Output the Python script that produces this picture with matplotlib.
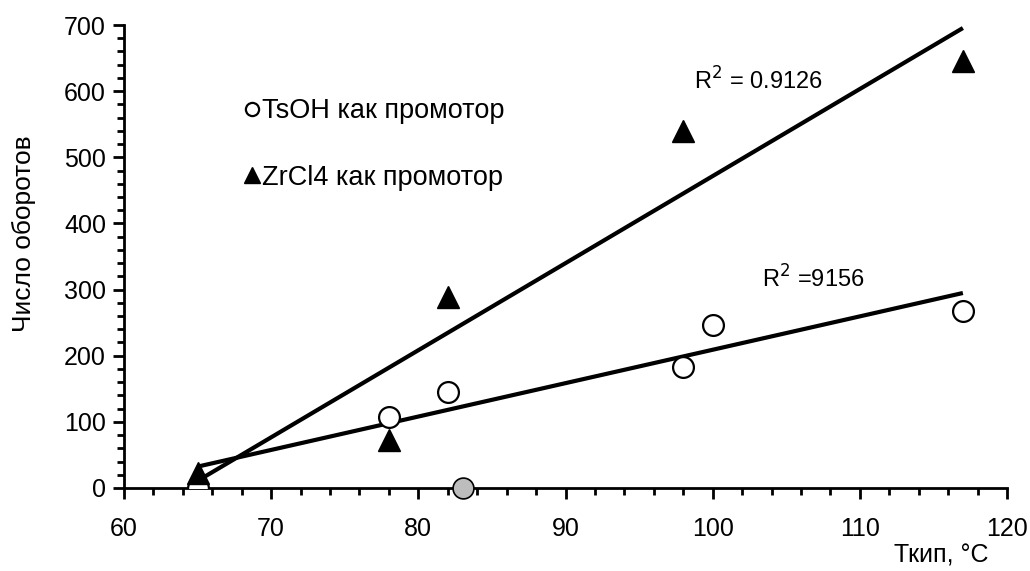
import numpy as np
import matplotlib
matplotlib.use("Agg")
import matplotlib.pyplot as plt
from matplotlib.lines import Line2D
from matplotlib.ticker import MultipleLocator

plt.rcParams['font.family'] = ['Liberation Sans', 'DejaVu Sans']

# Boiling point of the alcohol (°C) and turnover number
tsoh_t = [65, 78, 82, 98, 100, 117]
tsoh_n = [0, 108, 145, 183, 247, 268]

zrcl4_t = [65, 78, 82, 98, 117]
zrcl4_n = [22, 72, 289, 540, 645]

outlier_t = [83]
outlier_n = [0]

r2_zrcl4 = "R$^2$ = 0.9126"
r2_tsoh = "R$^2$ =9156"

fig = plt.figure(figsize=(10.30, 5.71), dpi=100)
ax = fig.add_axes([0.1204, 0.1454, 0.8573, 0.8108])

# Linear trend lines over the measured range
for t, n in ((tsoh_t, tsoh_n), (zrcl4_t, zrcl4_n)):
    k, b = np.polyfit(t, n, 1)
    xs = np.array([min(t), max(t)])
    ax.plot(xs, k * xs + b, color='black', lw=3.0, zorder=2, solid_capstyle='butt')

ax.plot(tsoh_t, tsoh_n, 'o', ms=15, mfc='white', mec='black', mew=1.6, zorder=3)
ax.plot(zrcl4_t, zrcl4_n, '^', ms=16, mfc='black', mec='black', zorder=4)
ax.plot(outlier_t, outlier_n, 'o', ms=15, mfc='#bdbdbd', mec='black', mew=1.2,
        zorder=5, clip_on=False)

ax.set_xlim(60, 120)
ax.set_ylim(0, 700)
ax.xaxis.set_major_locator(MultipleLocator(10))
ax.xaxis.set_minor_locator(MultipleLocator(2))
ax.yaxis.set_major_locator(MultipleLocator(100))
ax.yaxis.set_minor_locator(MultipleLocator(20))

for s in ('top', 'right'):
    ax.spines[s].set_visible(False)
for s in ('left', 'bottom'):
    ax.spines[s].set_linewidth(2.0)

ax.tick_params(axis='both', which='major', direction='out', length=8, width=2,
               labelsize=18)
ax.tick_params(axis='both', which='minor', direction='out', length=5, width=2)
ax.tick_params(axis='x', which='major', pad=13)
ax.tick_params(axis='y', which='major', pad=5)

ax.set_ylabel("Число оборотов", fontsize=19)
ax.yaxis.set_label_coords(-0.0997, 0.55)
ax.set_xlabel("Ткип, °C", fontsize=18)
ax.xaxis.set_label_coords(0.926, -0.12)

ax.text(0.645, 0.88, r2_zrcl4, transform=ax.transAxes, fontsize=17,
        ha='left', va='center')
ax.text(0.723, 0.452, r2_tsoh, transform=ax.transAxes, fontsize=17,
        ha='left', va='center')

handles = [
    Line2D([], [], ls='none', marker='o', ms=9.5, mfc='white', mec='black', mew=1.6),
    Line2D([], [], ls='none', marker='^', ms=11, mfc='black', mec='black'),
]
labels = ["TsOH как промотор", "ZrCl4 как промотор"]
ax.legend(handles, labels, loc='upper left', bbox_to_anchor=(0.123, 0.865),
          frameon=False, fontsize=19.5, handlelength=0.6, handletextpad=0.1,
          labelspacing=1.5, borderaxespad=0)

fig.savefig("out.png", dpi=100, facecolor='white')
